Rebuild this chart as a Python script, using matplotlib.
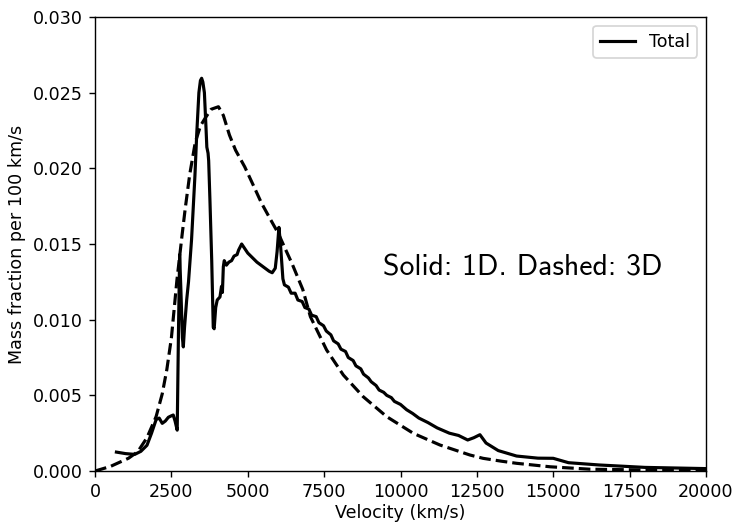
import numpy as np
import matplotlib
matplotlib.use("Agg")
import matplotlib.pyplot as plt
import matplotlib.ticker as mticker

DPI = 126

# 1D model (solid)
v_1d = [700, 1000, 1300, 1500, 1700, 1850, 2000, 2100, 2200, 2300,
        2400, 2500, 2560, 2620, 2690, 2730, 2770, 2810, 2860, 2890,
        2930, 3000, 3060, 3160, 3270, 3330, 3400, 3450, 3490, 3530,
        3580, 3630, 3660, 3700, 3720, 3760, 3820, 3870, 3900, 3950,
        4000, 4090, 4140, 4170, 4200, 4230, 4300, 4380, 4470, 4550,
        4650, 4700, 4800, 5000, 5300, 5500, 5700, 5800, 5900, 5960,
        6020, 6070, 6150, 6200, 6330, 6420, 6550, 6640, 6780, 6870,
        7000, 7090, 7240, 7330, 7480, 7570, 7720, 7810, 7960, 8050,
        8200, 8290, 8450, 8540, 8700, 8790, 8950, 9040, 9200, 9300,
        9450, 9550, 9700, 9800, 10000, 10200, 10400, 10600, 10900, 11200,
        11600, 11900, 12200, 12400, 12600, 12800, 13200, 13800, 14500, 15000,
        15500, 16500, 18000, 20000]
m_1d = [0.00125, 0.00115, 0.00110, 0.00130, 0.00170, 0.00250, 0.00340, 0.00350, 0.00315, 0.00330,
        0.00355, 0.00365, 0.00370, 0.00330, 0.00270, 0.00900, 0.01430, 0.01200, 0.00880, 0.00820,
        0.00950, 0.01130, 0.01250, 0.01530, 0.01950, 0.02230, 0.02500, 0.02580, 0.02595, 0.02570,
        0.02500, 0.02280, 0.02140, 0.02100, 0.02050, 0.01800, 0.01390, 0.00950, 0.00940, 0.01080,
        0.01130, 0.01150, 0.01220, 0.01180, 0.01350, 0.01390, 0.01360, 0.01380, 0.01390, 0.01420,
        0.01430, 0.01460, 0.01500, 0.01440, 0.01380, 0.01350, 0.01320, 0.01310, 0.01340, 0.01450,
        0.01610, 0.01500, 0.01270, 0.01230, 0.01215, 0.01175, 0.01175, 0.01130, 0.01120, 0.01080,
        0.01070, 0.01030, 0.01020, 0.00980, 0.00960, 0.00925, 0.00900, 0.00860, 0.00840, 0.00805,
        0.00790, 0.00750, 0.00730, 0.00695, 0.00675, 0.00640, 0.00615, 0.00590, 0.00565, 0.00535,
        0.00520, 0.00500, 0.00485, 0.00460, 0.00440, 0.00405, 0.00380, 0.00350, 0.00320, 0.00285,
        0.00250, 0.00235, 0.00205, 0.00220, 0.00240, 0.00185, 0.00135, 0.00099, 0.00085, 0.00084,
        0.00055, 0.00040, 0.00024, 0.00016]

# 3D model (dashed)
v_3d = [0, 500, 1100, 1400, 1700, 2000, 2200, 2350, 2500, 2680,
        2850, 2950, 3100, 3280, 3450, 3600, 3800, 4040, 4200, 4400,
        4600, 4900, 5200, 5450, 5750, 6000, 6200, 6450, 6800, 7050,
        7580, 8130, 8780, 9550, 10420, 11290, 12270, 12700, 13300, 13800,
        14900, 16200, 18000, 20000]
m_3d = [0.00000, 0.00030, 0.00085, 0.00128, 0.00220, 0.00360, 0.00510, 0.00670, 0.00880, 0.01260,
        0.01560, 0.01730, 0.01960, 0.02170, 0.02280, 0.02330, 0.02390, 0.02407, 0.02350, 0.02220,
        0.02120, 0.02010, 0.01880, 0.01770, 0.01660, 0.01570, 0.01480, 0.01370, 0.01200, 0.01020,
        0.00800, 0.00634, 0.00491, 0.00359, 0.00249, 0.00172, 0.00106, 0.00084, 0.00065, 0.00051,
        0.00028, 0.00012, 0.00007, 0.00004]

fig = plt.figure(figsize=(735 / DPI, 524 / DPI), dpi=DPI)
ax = fig.add_axes([0.1293, 0.1011, 0.8312, 0.8665])

ax.plot(v_1d, m_1d, color="black", lw=1.8, label="Total")
ax.plot(v_3d, m_3d, color="black", lw=1.8, ls="--")

# computer-modern sans, like the usetex label in the original
ax.text(9427, 0.01341, "Solid: 1D. Dashed: 3D",
        family=["cmss10", "DejaVu Sans"], fontsize=17, ha="left", va="center")

ax.set_xlim(0, 20000)
ax.set_ylim(0, 0.030)
ax.set_xticks(np.arange(0, 20001, 2500))
ax.set_yticks(np.arange(0, 0.0301, 0.005))
ax.yaxis.set_major_formatter(mticker.FormatStrFormatter("%.3f"))
ax.set_xlabel("Velocity (km/s)", labelpad=1.5)
ax.set_ylabel("Mass fraction per 100 km/s")
ax.legend(loc="upper right")

fig.savefig("out.png", dpi=DPI)
